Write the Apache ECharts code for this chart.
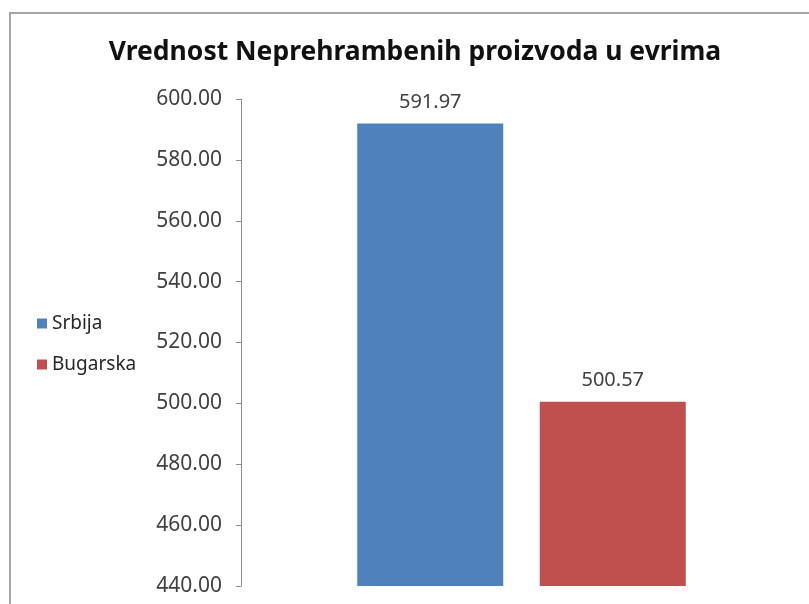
<!DOCTYPE html>
<html>
<head>
<meta charset="utf-8">
<script src="https://cdn.jsdelivr.net/npm/echarts@6/dist/echarts.min.js"></script>
<style>
  html, body { margin: 0; padding: 0; background: #fff; }
  #frame { position: absolute; left: 9px; top: 12px; width: 820px; height: 620px;
           border-left: 2px solid #a6a6a6; border-top: 2px solid #a6a6a6; }
  #chart { position: absolute; left: 0; top: 0; width: 809px; height: 604px; }
</style>
</head>
<body>
<div id="frame"></div>
<div id="chart"></div>
<script>
const categories = [""];
const seriesNames = ["Srbija", "Bugarska"];
const srbija = [591.97];
const bugarska = [500.57];
const yTicks = { min: 440, max: 600, step: 20 };

const font = "'Noto Sans', sans-serif";
const chart = echarts.init(document.getElementById("chart"));
chart.setOption({
  animation: false,
  title: {
    text: "Vrednost Neprehrambenih proizvoda u evrima",
    left: 410, top: 34, textAlign: "center",
    textStyle: { fontFamily: font, fontSize: 26.5, fontWeight: "bold", color: "#111" }
  },
  legend: {
    orient: "vertical", left: 32, top: 309,
    itemWidth: 10, itemHeight: 10, itemGap: 22, icon: "rect",
    textStyle: { fontFamily: font, fontSize: 19, color: "#262626" },
    data: seriesNames
  },
  grid: { left: 241, top: 99, right: 7, bottom: 18, containLabel: false },
  xAxis: {
    type: "category", data: categories,
    axisLine: { show: false }, axisTick: { show: false }, axisLabel: { show: false }
  },
  yAxis: {
    type: "value", min: yTicks.min, max: yTicks.max, interval: yTicks.step,
    axisLine: { show: true, lineStyle: { color: "#8c8c8c", width: 1 } },
    axisTick: { show: true, length: 5, lineStyle: { color: "#8c8c8c" } },
    splitLine: { show: false },
    axisLabel: {
      margin: 19, fontFamily: font, fontSize: 21, color: "#404040",
      formatter: v => v.toFixed(2)
    }
  },
  series: [
    {
      name: seriesNames[0], type: "bar", data: srbija,
      barWidth: 146, barGap: "25%",
      itemStyle: { color: "#4f81bd" },
      label: { show: true, position: "top", distance: 11, fontFamily: font, fontSize: 20,
               color: "#404040", formatter: p => p.value.toFixed(2) }
    },
    {
      name: seriesNames[1], type: "bar", data: bugarska,
      barWidth: 146,
      itemStyle: { color: "#c0504d" },
      label: { show: true, position: "top", distance: 11, fontFamily: font, fontSize: 20,
               color: "#404040", formatter: p => p.value.toFixed(2) }
    }
  ]
});
</script>
</body>
</html>
